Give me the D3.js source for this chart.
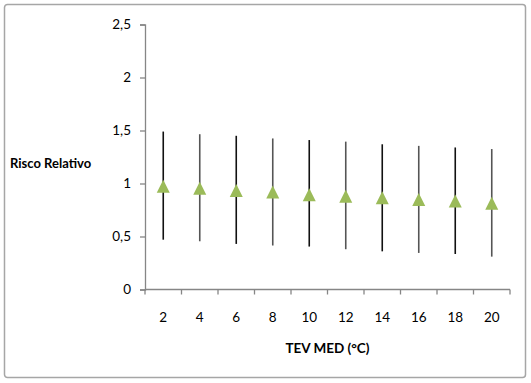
<!DOCTYPE html>
<html><head><meta charset="utf-8">
<script src="https://cdn.jsdelivr.net/npm/d3@7"></script>
<style>body{margin:0;background:#fff}svg{display:block}text{font-family:Lato,"Open Sans",sans-serif}</style>
</head><body><svg id="c" width="531" height="383"></svg>
<script>
const categories = ["2","4","6","8","10","12","14","16","18","20"];
const rr    = [0.97,0.95,0.93,0.915,0.89,0.875,0.86,0.845,0.83,0.81];
const upper = [1.49,1.465,1.45,1.425,1.41,1.395,1.37,1.355,1.34,1.325];
const lower = [0.47,0.455,0.43,0.415,0.405,0.38,0.36,0.345,0.335,0.31];
const yTicks = [0,0.5,1,1.5,2,2.5];
const yTickLabels = ["0","0,5","1","1,5","2","2,5"];

const svg = d3.select("#c");
svg.append("rect").attr("x",4.5).attr("y",4.5).attr("width",521).attr("height",373)
  .attr("rx",3).attr("fill","#fff").attr("stroke","#a6a6a6").attr("stroke-width",1.5);

const x = d3.scaleBand().domain(categories).range([145,510]).padding(0);
const y = d3.scaleLinear().domain([0,2.5]).range([289.5,24.5]);

const yAxis = svg.append("g").attr("transform","translate(145,0)")
  .call(d3.axisLeft(y).tickValues(yTicks).tickFormat((d,i)=>yTickLabels[i]).tickSize(5).tickPadding(9));
const xAxis = svg.append("g").attr("transform","translate(0,289.5)")
  .call(d3.axisBottom(x).tickSize(0).tickPadding(23));
[yAxis,xAxis].forEach(g=>{
  g.select(".domain").attr("stroke","#868686").attr("stroke-width",1.3);
  g.selectAll(".tick line").attr("stroke","#868686").attr("stroke-width",1.3);
  g.selectAll("text").attr("fill","#000").attr("font-size",13.5);
});
const bounds = categories.map(c=>x(c)).concat([x.range()[1]]);
svg.append("g").selectAll("line").data(bounds).join("line")
  .attr("x1",d=>d).attr("x2",d=>d).attr("y1",289.5).attr("y2",294.5)
  .attr("stroke","#868686").attr("stroke-width",1.3);
xAxis.select(".domain").attr("d",`M145,0H510`);

const cx = d=>x(d)+x.bandwidth()/2;
svg.append("g").selectAll("line").data(categories).join("line")
  .attr("x1",cx).attr("x2",cx)
  .attr("y1",(d,i)=>y(upper[i])).attr("y2",(d,i)=>y(lower[i]))
  .attr("stroke",(d,i)=>i%2?"#555":"#111").attr("stroke-width",1.6);

svg.append("g").selectAll("path").data(categories).join("path")
  .attr("transform",(d,i)=>`translate(${cx(d)},${y(rr[i])})`)
  .attr("d","M0,-7L6.5,6L-6.5,6Z").attr("fill","#9bbb59");

svg.append("text").attr("x",10).attr("y",168).attr("font-size",13).attr("font-weight","bold")
  .attr("fill","#000").text("Risco Relativo");
svg.append("text").attr("x",327.5).attr("y",353).attr("text-anchor","middle").attr("font-size",13.5)
  .attr("font-weight","bold").attr("fill","#000").text("TEV MED (°C)");
</script></body></html>
